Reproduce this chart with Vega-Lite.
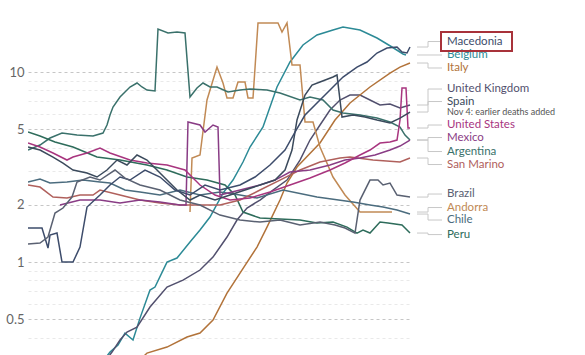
{
  "$schema": "https://vega.github.io/schema/vega-lite/v6.json",
  "width": 384,
  "height": 355,
  "autosize": {"type": "none"},
  "padding": {"left": 28, "top": 0, "right": 173, "bottom": 0},
  "background": "white",
  "config": {"view": {"stroke": null}, "font": "Lato"},
  "datasets": {
    "series": [
      {"c":"Belgium","d":72,"v":0.287},{"c":"Belgium","d":82,"v":0.336},{"c":"Belgium","d":90,"v":0.366},{"c":"Belgium","d":97,"v":0.423},{"c":"Belgium","d":105,"v":0.389},{"c":"Belgium","d":112,"v":0.507},{"c":"Belgium","d":122,"v":0.712},{"c":"Belgium","d":127,"v":0.739},{"c":"Belgium","d":139,"v":1.0},{"c":"Belgium","d":149,"v":1.05},{"c":"Belgium","d":162,"v":1.274},{"c":"Belgium","d":172,"v":1.474},{"c":"Belgium","d":182,"v":1.725},{"c":"Belgium","d":195,"v":2.307},{"c":"Belgium","d":205,"v":2.701},{"c":"Belgium","d":215,"v":3.36},{"c":"Belgium","d":222,"v":4.03},{"c":"Belgium","d":235,"v":5.135},{"c":"Belgium","d":249,"v":8.34},{"c":"Belgium","d":262,"v":11.29},{"c":"Belgium","d":275,"v":13.87},{"c":"Belgium","d":289,"v":15.66},{"c":"Belgium","d":305,"v":16.64},{"c":"Belgium","d":315,"v":17.25},{"c":"Belgium","d":332,"v":16.64},{"c":"Belgium","d":349,"v":15.1},{"c":"Belgium","d":364,"v":13.54},{"c":"Belgium","d":375,"v":12.44},{"c":"Belgium","d":378,"v":12.29},
      {"c":"United Kingdom","d":72,"v":0.277},{"c":"United Kingdom","d":84,"v":0.336},{"c":"United Kingdom","d":92,"v":0.389},{"c":"United Kingdom","d":99,"v":0.428},{"c":"United Kingdom","d":109,"v":0.455},{"c":"United Kingdom","d":122,"v":0.58},{"c":"United Kingdom","d":139,"v":0.739},{"c":"United Kingdom","d":155,"v":0.804},{"c":"United Kingdom","d":172,"v":0.908},{"c":"United Kingdom","d":185,"v":1.062},{"c":"United Kingdom","d":199,"v":1.354},{"c":"United Kingdom","d":209,"v":1.664},{"c":"United Kingdom","d":219,"v":1.924},{"c":"United Kingdom","d":232,"v":2.12},{"c":"United Kingdom","d":245,"v":2.393},{"c":"United Kingdom","d":259,"v":2.701},{"c":"United Kingdom","d":272,"v":3.442},{"c":"United Kingdom","d":282,"v":4.386},{"c":"United Kingdom","d":292,"v":5.261},{"c":"United Kingdom","d":302,"v":6.31},{"c":"United Kingdom","d":312,"v":7.124},{"c":"United Kingdom","d":322,"v":7.568},{"c":"United Kingdom","d":332,"v":7.568},{"c":"United Kingdom","d":342,"v":7.124},{"c":"United Kingdom","d":352,"v":6.705},{"c":"United Kingdom","d":362,"v":6.786},{"c":"United Kingdom","d":372,"v":6.465},{"c":"United Kingdom","d":382,"v":6.705},
      {"c":"Italy","d":112,"v":0.305},{"c":"Italy","d":119,"v":0.332},{"c":"Italy","d":139,"v":0.357},{"c":"Italy","d":159,"v":0.403},{"c":"Italy","d":172,"v":0.423},{"c":"Italy","d":185,"v":0.495},{"c":"Italy","d":199,"v":0.687},{"c":"Italy","d":212,"v":0.875},{"c":"Italy","d":229,"v":1.199},{"c":"Italy","d":239,"v":1.528},{"c":"Italy","d":252,"v":2.12},{"c":"Italy","d":259,"v":2.605},{"c":"Italy","d":269,"v":3.162},{"c":"Italy","d":292,"v":4.23},{"c":"Italy","d":307,"v":5.589},{"c":"Italy","d":322,"v":6.868},{"c":"Italy","d":342,"v":8.34},{"c":"Italy","d":362,"v":9.879},{"c":"Italy","d":372,"v":10.62},{"c":"Italy","d":382,"v":11.15},
      {"c":"Andorra","d":162,"v":1.833},{"c":"Andorra","d":164,"v":3.527},{"c":"Andorra","d":172,"v":3.658},{"c":"Andorra","d":179,"v":7.124},{"c":"Andorra","d":189,"v":10.62},{"c":"Andorra","d":195,"v":8.752},{"c":"Andorra","d":199,"v":7.298},{"c":"Andorra","d":205,"v":7.298},{"c":"Andorra","d":210,"v":8.859},{"c":"Andorra","d":217,"v":8.859},{"c":"Andorra","d":220,"v":7.298},{"c":"Andorra","d":225,"v":7.298},{"c":"Andorra","d":230,"v":18.11},{"c":"Andorra","d":250,"v":18.11},{"c":"Andorra","d":254,"v":16.24},{"c":"Andorra","d":259,"v":18.11},{"c":"Andorra","d":264,"v":10.89},{"c":"Andorra","d":272,"v":10.89},{"c":"Andorra","d":277,"v":5.456},{"c":"Andorra","d":285,"v":5.456},{"c":"Andorra","d":292,"v":4.03},{"c":"Andorra","d":305,"v":2.802},{"c":"Andorra","d":317,"v":2.253},{"c":"Andorra","d":332,"v":1.833},{"c":"Andorra","d":364,"v":1.833},
      {"c":"Argentina","d":0,"v":3.887},{"c":"Argentina","d":12,"v":4.128},{"c":"Argentina","d":22,"v":4.494},{"c":"Argentina","d":34,"v":4.775},{"c":"Argentina","d":49,"v":4.66},{"c":"Argentina","d":65,"v":4.605},{"c":"Argentina","d":75,"v":4.775},{"c":"Argentina","d":79,"v":5.261},{"c":"Argentina","d":82,"v":5.937},{"c":"Argentina","d":85,"v":6.545},{"c":"Argentina","d":92,"v":7.386},{"c":"Argentina","d":102,"v":8.34},{"c":"Argentina","d":109,"v":8.752},{"c":"Argentina","d":114,"v":8.34},{"c":"Argentina","d":119,"v":8.04},{"c":"Argentina","d":127,"v":7.943},{"c":"Argentina","d":130,"v":16.84},{"c":"Argentina","d":140,"v":16.04},{"c":"Argentina","d":149,"v":16.24},{"c":"Argentina","d":157,"v":16.04},{"c":"Argentina","d":162,"v":7.386},{"c":"Argentina","d":169,"v":8.24},{"c":"Argentina","d":175,"v":8.752},{"c":"Argentina","d":182,"v":8.34},{"c":"Argentina","d":189,"v":8.34},{"c":"Argentina","d":200,"v":7.848},{"c":"Argentina","d":212,"v":8.04},{"c":"Argentina","d":222,"v":8.138},{"c":"Argentina","d":239,"v":8.04},{"c":"Argentina","d":252,"v":7.753},{"c":"Argentina","d":272,"v":7.124},{"c":"Argentina","d":282,"v":7.386},{"c":"Argentina","d":295,"v":7.124},{"c":"Argentina","d":305,"v":6.31},{"c":"Argentina","d":315,"v":6.083},{"c":"Argentina","d":332,"v":5.937},{"c":"Argentina","d":349,"v":5.725},{"c":"Argentina","d":362,"v":5.456},{"c":"Argentina","d":372,"v":5.135},{"c":"Argentina","d":377,"v":4.66},{"c":"Argentina","d":382,"v":4.386},
      {"c":"Peru","d":0,"v":4.833},{"c":"Peru","d":12,"v":4.605},{"c":"Peru","d":27,"v":4.281},{"c":"Peru","d":45,"v":4.03},{"c":"Peru","d":69,"v":3.569},{"c":"Peru","d":92,"v":3.442},{"c":"Peru","d":119,"v":3.24},{"c":"Peru","d":139,"v":3.05},{"c":"Peru","d":159,"v":2.802},{"c":"Peru","d":179,"v":2.701},{"c":"Peru","d":197,"v":2.543},{"c":"Peru","d":207,"v":2.253},{"c":"Peru","d":215,"v":1.833},{"c":"Peru","d":232,"v":1.704},{"c":"Peru","d":252,"v":1.684},{"c":"Peru","d":272,"v":1.664},{"c":"Peru","d":289,"v":1.604},{"c":"Peru","d":305,"v":1.624},{"c":"Peru","d":319,"v":1.528},{"c":"Peru","d":329,"v":1.421},{"c":"Peru","d":335,"v":1.474},{"c":"Peru","d":342,"v":1.421},{"c":"Peru","d":352,"v":1.624},{"c":"Peru","d":360,"v":1.604},{"c":"Peru","d":374,"v":1.566},{"c":"Peru","d":382,"v":1.421},
      {"c":"Chile","d":0,"v":2.637},{"c":"Chile","d":12,"v":2.734},{"c":"Chile","d":22,"v":2.605},{"c":"Chile","d":39,"v":2.637},{"c":"Chile","d":55,"v":2.701},{"c":"Chile","d":72,"v":2.637},{"c":"Chile","d":82,"v":2.605},{"c":"Chile","d":97,"v":2.393},{"c":"Chile","d":112,"v":2.336},{"c":"Chile","d":132,"v":2.253},{"c":"Chile","d":152,"v":2.393},{"c":"Chile","d":172,"v":2.253},{"c":"Chile","d":192,"v":2.336},{"c":"Chile","d":212,"v":2.253},{"c":"Chile","d":229,"v":2.172},{"c":"Chile","d":255,"v":2.393},{"c":"Chile","d":289,"v":2.198},{"c":"Chile","d":325,"v":2.069},{"c":"Chile","d":342,"v":1.995},{"c":"Chile","d":355,"v":1.947},{"c":"Chile","d":369,"v":1.878},{"c":"Chile","d":382,"v":1.789},
      {"c":"San Marino","d":0,"v":2.543},{"c":"San Marino","d":12,"v":2.481},{"c":"San Marino","d":25,"v":2.198},{"c":"San Marino","d":39,"v":2.172},{"c":"San Marino","d":52,"v":2.253},{"c":"San Marino","d":65,"v":2.253},{"c":"San Marino","d":72,"v":2.393},{"c":"San Marino","d":92,"v":2.253},{"c":"San Marino","d":112,"v":2.12},{"c":"San Marino","d":132,"v":2.044},{"c":"San Marino","d":152,"v":1.995},{"c":"San Marino","d":172,"v":1.995},{"c":"San Marino","d":192,"v":1.995},{"c":"San Marino","d":212,"v":2.12},{"c":"San Marino","d":232,"v":2.393},{"c":"San Marino","d":252,"v":2.701},{"c":"San Marino","d":272,"v":3.05},{"c":"San Marino","d":292,"v":3.36},{"c":"San Marino","d":312,"v":3.527},{"c":"San Marino","d":322,"v":3.569},{"c":"San Marino","d":345,"v":3.442},{"c":"San Marino","d":372,"v":3.36},{"c":"San Marino","d":382,"v":3.527},
      {"c":"Mexico","d":32,"v":1.995},{"c":"Mexico","d":52,"v":2.12},{"c":"Mexico","d":72,"v":2.12},{"c":"Mexico","d":92,"v":2.044},{"c":"Mexico","d":112,"v":2.12},{"c":"Mexico","d":132,"v":2.069},{"c":"Mexico","d":152,"v":1.995},{"c":"Mexico","d":158,"v":1.995},{"c":"Mexico","d":160,"v":5.456},{"c":"Mexico","d":172,"v":5.261},{"c":"Mexico","d":177,"v":4.833},{"c":"Mexico","d":185,"v":5.261},{"c":"Mexico","d":190,"v":5.135},{"c":"Mexico","d":192,"v":2.253},{"c":"Mexico","d":212,"v":2.393},{"c":"Mexico","d":232,"v":2.543},{"c":"Mexico","d":247,"v":2.701},{"c":"Mexico","d":262,"v":2.976},{"c":"Mexico","d":282,"v":3.05},{"c":"Mexico","d":302,"v":3.24},{"c":"Mexico","d":317,"v":3.442},{"c":"Mexico","d":332,"v":3.527},{"c":"Mexico","d":347,"v":3.658},{"c":"Mexico","d":362,"v":3.887},{"c":"Mexico","d":372,"v":4.078},{"c":"Mexico","d":382,"v":4.386},
      {"c":"United States","d":0,"v":4.23},{"c":"United States","d":12,"v":4.03},{"c":"United States","d":25,"v":3.747},{"c":"United States","d":39,"v":3.442},{"c":"United States","d":45,"v":3.569},{"c":"United States","d":59,"v":3.747},{"c":"United States","d":72,"v":3.981},{"c":"United States","d":82,"v":3.747},{"c":"United States","d":102,"v":3.442},{"c":"United States","d":119,"v":3.32},{"c":"United States","d":139,"v":3.24},{"c":"United States","d":157,"v":3.05},{"c":"United States","d":172,"v":2.543},{"c":"United States","d":187,"v":2.253},{"c":"United States","d":202,"v":2.12},{"c":"United States","d":222,"v":2.172},{"c":"United States","d":242,"v":2.336},{"c":"United States","d":262,"v":2.543},{"c":"United States","d":282,"v":2.767},{"c":"United States","d":302,"v":3.05},{"c":"United States","d":317,"v":3.32},{"c":"United States","d":332,"v":3.658},{"c":"United States","d":342,"v":3.887},{"c":"United States","d":352,"v":4.23},{"c":"United States","d":362,"v":4.281},{"c":"United States","d":369,"v":4.386},{"c":"United States","d":372,"v":5.589},{"c":"United States","d":374,"v":8.24},{"c":"United States","d":378,"v":8.24},{"c":"United States","d":380,"v":5.073},{"c":"United States","d":382,"v":5.073},
      {"c":"Spain","d":0,"v":4.03},{"c":"Spain","d":12,"v":3.887},{"c":"Spain","d":25,"v":3.569},{"c":"Spain","d":35,"v":3.32},{"c":"Spain","d":45,"v":3.05},{"c":"Spain","d":59,"v":2.941},{"c":"Spain","d":69,"v":2.802},{"c":"Spain","d":79,"v":3.05},{"c":"Spain","d":89,"v":3.442},{"c":"Spain","d":99,"v":3.24},{"c":"Spain","d":109,"v":3.658},{"c":"Spain","d":119,"v":3.442},{"c":"Spain","d":129,"v":3.05},{"c":"Spain","d":139,"v":2.701},{"c":"Spain","d":149,"v":2.393},{"c":"Spain","d":162,"v":2.12},{"c":"Spain","d":172,"v":2.253},{"c":"Spain","d":187,"v":2.12},{"c":"Spain","d":202,"v":2.253},{"c":"Spain","d":217,"v":2.393},{"c":"Spain","d":232,"v":2.543},{"c":"Spain","d":247,"v":2.701},{"c":"Spain","d":257,"v":3.05},{"c":"Spain","d":264,"v":3.887},{"c":"Spain","d":269,"v":5.589},{"c":"Spain","d":277,"v":7.568},{"c":"Spain","d":284,"v":8.544},{"c":"Spain","d":292,"v":8.859},{"c":"Spain","d":305,"v":9.412},{"c":"Spain","d":309,"v":9.643},{"c":"Spain","d":314,"v":5.798},{"c":"Spain","d":325,"v":5.937},{"c":"Spain","d":337,"v":5.798},{"c":"Spain","d":349,"v":5.589},{"c":"Spain","d":362,"v":5.391},{"c":"Spain","d":372,"v":5.725},{"c":"Spain","d":382,"v":6.158},
      {"c":"Macedonia","d":0,"v":1.51},{"c":"Macedonia","d":14,"v":1.51},{"c":"Macedonia","d":20,"v":1.185},{"c":"Macedonia","d":22,"v":1.387},{"c":"Macedonia","d":29,"v":1.421},{"c":"Macedonia","d":34,"v":1.0},{"c":"Macedonia","d":45,"v":1.0},{"c":"Macedonia","d":52,"v":1.199},{"c":"Macedonia","d":59,"v":1.947},{"c":"Macedonia","d":72,"v":2.253},{"c":"Macedonia","d":82,"v":2.543},{"c":"Macedonia","d":92,"v":2.802},{"c":"Macedonia","d":102,"v":2.701},{"c":"Macedonia","d":117,"v":3.05},{"c":"Macedonia","d":132,"v":2.802},{"c":"Macedonia","d":147,"v":2.393},{"c":"Macedonia","d":162,"v":2.253},{"c":"Macedonia","d":177,"v":2.543},{"c":"Macedonia","d":192,"v":2.393},{"c":"Macedonia","d":212,"v":2.543},{"c":"Macedonia","d":227,"v":2.802},{"c":"Macedonia","d":242,"v":3.24},{"c":"Macedonia","d":257,"v":3.887},{"c":"Macedonia","d":267,"v":4.833},{"c":"Macedonia","d":277,"v":5.937},{"c":"Macedonia","d":287,"v":6.705},{"c":"Macedonia","d":297,"v":7.568},{"c":"Macedonia","d":307,"v":8.544},{"c":"Macedonia","d":315,"v":9.412},{"c":"Macedonia","d":329,"v":10.62},{"c":"Macedonia","d":339,"v":11.29},{"c":"Macedonia","d":349,"v":12.59},{"c":"Macedonia","d":359,"v":13.37},{"c":"Macedonia","d":369,"v":13.54},{"c":"Macedonia","d":374,"v":12.74},{"c":"Macedonia","d":379,"v":12.59},{"c":"Macedonia","d":382,"v":13.54},
      {"c":"Brazil","d":0,"v":1.244},{"c":"Brazil","d":12,"v":1.259},{"c":"Brazil","d":20,"v":1.354},{"c":"Brazil","d":27,"v":1.811},{"c":"Brazil","d":35,"v":1.924},{"c":"Brazil","d":44,"v":2.198},{"c":"Brazil","d":49,"v":2.637},{"c":"Brazil","d":62,"v":2.802},{"c":"Brazil","d":72,"v":2.701},{"c":"Brazil","d":87,"v":3.05},{"c":"Brazil","d":97,"v":2.767},{"c":"Brazil","d":112,"v":2.543},{"c":"Brazil","d":132,"v":2.393},{"c":"Brazil","d":152,"v":2.12},{"c":"Brazil","d":172,"v":1.995},{"c":"Brazil","d":192,"v":1.767},{"c":"Brazil","d":212,"v":1.664},{"c":"Brazil","d":232,"v":1.624},{"c":"Brazil","d":252,"v":1.664},{"c":"Brazil","d":272,"v":1.566},{"c":"Brazil","d":292,"v":1.624},{"c":"Brazil","d":307,"v":1.566},{"c":"Brazil","d":317,"v":1.51},{"c":"Brazil","d":327,"v":1.421},{"c":"Brazil","d":332,"v":2.12},{"c":"Brazil","d":342,"v":2.701},{"c":"Brazil","d":350,"v":2.701},{"c":"Brazil","d":355,"v":2.543},{"c":"Brazil","d":362,"v":2.605},{"c":"Brazil","d":369,"v":2.253},{"c":"Brazil","d":382,"v":2.198}
    ],
    "labels": [
      {"c":"Macedonia","lab":14.47,"end":13.54},
      {"c":"Belgium","lab":12.29,"end":12.29},
      {"c":"Italy","lab":10.5,"end":11.15},
      {"c":"United Kingdom","lab":8.138,"end":6.705},
      {"c":"Spain","lab":6.994,"end":6.158},
      {"c":"United States","lab":5.261,"end":5.073},
      {"c":"Mexico","lab":4.522,"end":4.386},
      {"c":"Argentina","lab":3.816,"end":4.386},
      {"c":"San Marino","lab":3.26,"end":3.527},
      {"c":"Brazil","lab":2.28,"end":2.198},
      {"c":"Andorra","lab":1.936,"end":1.833},
      {"c":"Chile","lab":1.664,"end":1.789},
      {"c":"Peru","lab":1.395,"end":1.421}
    ]
  },
  "layer": [
    {
      "data": {"name": "series"},
      "mark": {"type": "line", "strokeWidth": 1.5, "clip": true},
      "encoding": {
        "x": {"field": "d", "type": "quantitative", "scale": {"domain": [0, 384], "nice": false, "zero": false}, "axis": null},
        "y": {
          "field": "v", "type": "quantitative",
          "scale": {"type": "log", "domain": [0.3243, 23.93], "nice": false},
          "axis": {
            "title": null, "domain": false, "ticks": false,
            "values": [0.4, 0.5, 0.6, 0.7, 0.8, 0.9, 1, 2, 3, 4, 5, 6, 7, 8, 9, 10],
            "format": ".1~f",
            "labelExpr": "indexof([0.5, 1, 2, 5, 10], datum.value) >= 0 ? datum.label : ''",
            "labelColor": "#666666", "labelFontSize": 13, "labelFont": "Lato", "labelPadding": 4,
            "gridDash": [3, 3],
            "gridColor": {"condition": {"test": "indexof([0.5, 1, 2, 5, 10], datum.value) >= 0", "value": "#c6c6c6"}, "value": "#e9e9e9"}
          }
        },
        "color": {
          "field": "c", "type": "nominal", "legend": null,
          "scale": {
            "domain": ["Macedonia", "Belgium", "Italy", "United Kingdom", "Spain", "United States", "Mexico", "Argentina", "San Marino", "Brazil", "Andorra", "Chile", "Peru"],
            "range": ["#3d4c6b", "#2c8a96", "#b2733a", "#52506e", "#3b4a5c", "#a8357f", "#893c85", "#3a716b", "#b0605c", "#5a6172", "#c18a55", "#4b6c7e", "#2e6c5b"]
          }
        }
      }
    },
    {
      "data": {"name": "labels"},
      "mark": {"type": "rule", "color": "#c8c8c8", "strokeWidth": 1},
      "encoding": {
        "x": {"datum": 389, "type": "quantitative"},
        "x2": {"datum": 400},
        "y": {"field": "end", "type": "quantitative"}
      }
    },
    {
      "data": {"name": "labels"},
      "mark": {"type": "rule", "color": "#c8c8c8", "strokeWidth": 1},
      "encoding": {
        "x": {"datum": 400, "type": "quantitative"},
        "y": {"field": "end", "type": "quantitative"},
        "y2": {"field": "lab"}
      }
    },
    {
      "data": {"name": "labels"},
      "mark": {"type": "rule", "color": "#c8c8c8", "strokeWidth": 1},
      "encoding": {
        "x": {"datum": 400, "type": "quantitative"},
        "x2": {"datum": 414},
        "y": {"field": "lab", "type": "quantitative"}
      }
    },
    {
      "data": {"name": "labels"},
      "mark": {"type": "text", "align": "left", "baseline": "middle", "fontSize": 11.5, "font": "Lato"},
      "encoding": {
        "x": {"datum": 419, "type": "quantitative"},
        "y": {"field": "lab", "type": "quantitative"},
        "text": {"field": "c"},
        "color": {"field": "c", "type": "nominal", "legend": null}
      }
    },
    {
      "data": {"values": [{"note": "Nov 4: earlier deaths added", "v": 6.158}]},
      "mark": {"type": "text", "align": "left", "baseline": "middle", "fontSize": 9, "font": "Lato", "color": "#555555"},
      "encoding": {
        "x": {"datum": 419, "type": "quantitative"},
        "y": {"field": "v", "type": "quantitative"},
        "text": {"field": "note"}
      }
    },
    {
      "data": {"values": [{"c": "Macedonia"}]},
      "mark": {"type": "rect", "filled": false, "stroke": "#a8323a", "strokeWidth": 2},
      "encoding": {
        "x": {"datum": 413, "type": "quantitative"},
        "x2": {"datum": 484},
        "y": {"datum": 16.24, "type": "quantitative"},
        "y2": {"datum": 12.9}
      }
    }
  ]
}
